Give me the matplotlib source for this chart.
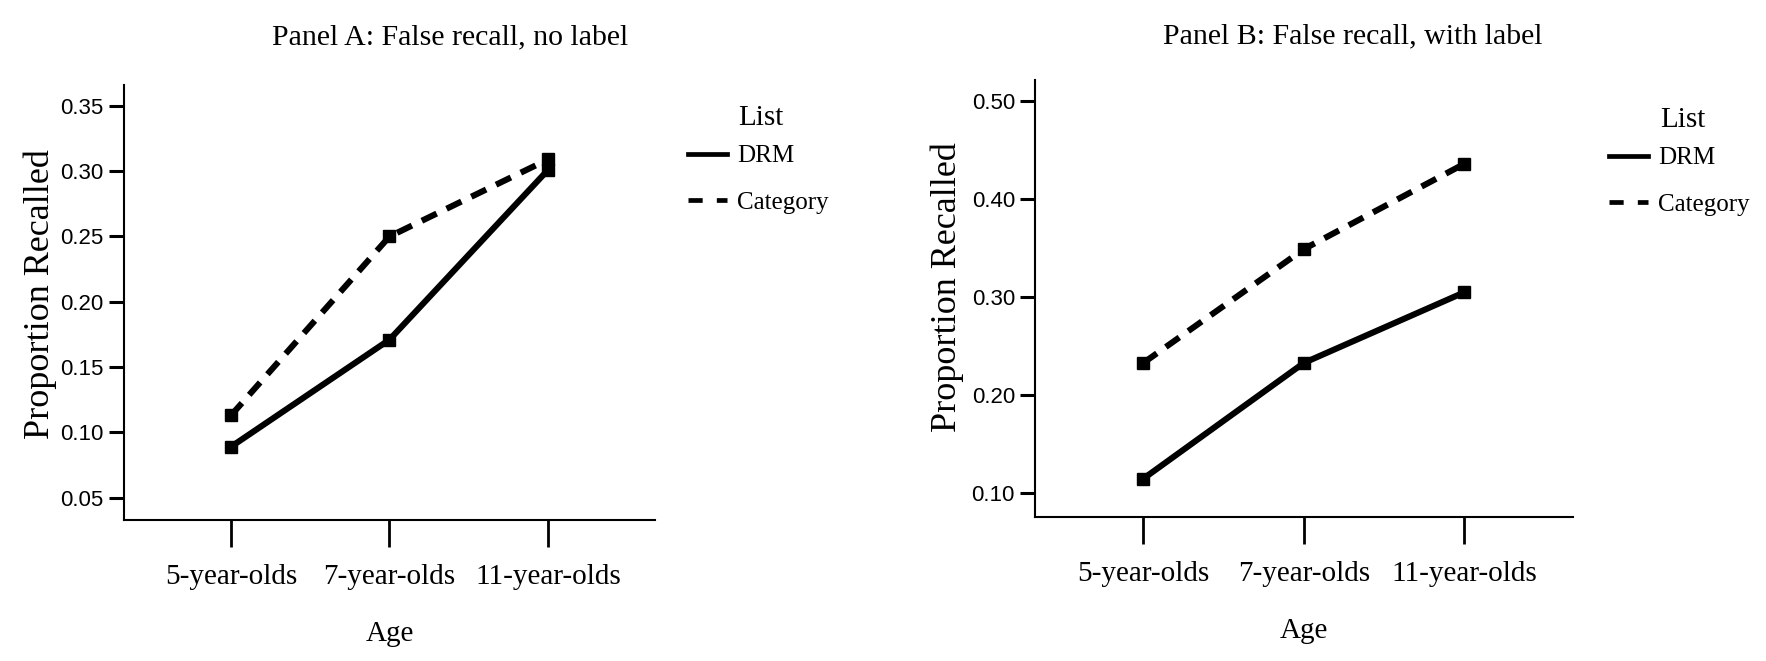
import matplotlib
matplotlib.use("Agg")
import matplotlib.pyplot as plt
from matplotlib.lines import Line2D

# Data
ages = ["5-year-olds", "7-year-olds", "11-year-olds"]
series_names = ["DRM", "Category"]

drm_no_label = [0.089, 0.171, 0.301]
cat_no_label = [0.113, 0.250, 0.309]
drm_with_label = [0.115, 0.233, 0.305]
cat_with_label = [0.233, 0.349, 0.436]

yticks_a = [0.05, 0.10, 0.15, 0.20, 0.25, 0.30, 0.35]
yticks_b = [0.10, 0.20, 0.30, 0.40, 0.50]

SERIF = ["Liberation Serif", "DejaVu Serif"]
SANS = ["Liberation Sans Narrow", "Liberation Sans", "DejaVu Sans"]

LW = 4.4
DASH = (2.7, 1.8)


def draw_panel(ax, drm, cat, yticks, ylim, fmt):
	x = list(range(len(ages)))
	ax.plot(x, drm, color="black", lw=LW, marker="s", ms=8.5)
	ax.plot(x, cat, color="black", lw=LW, marker="s", ms=8.5, linestyle=(0, DASH))

	ax.set_xlim(-0.675, 2.675)
	ax.set_ylim(*ylim)
	ax.set_xticks(x)
	ax.set_xticklabels(ages, family=SERIF, fontsize=21)
	ax.set_yticks(yticks)
	ax.set_yticklabels([fmt.format(v) for v in yticks], family=SANS, fontsize=16)

	for side in ["top", "right"]:
		ax.spines[side].set_visible(False)
	for side in ["left", "bottom"]:
		ax.spines[side].set_linewidth(1.5)

	ax.tick_params(axis="x", direction="out", length=19.5, width=2, pad=12.5)
	ax.tick_params(axis="y", direction="out", length=11, width=2.2, pad=3.5)

	ax.set_xlabel("Age", family=SERIF, fontsize=21)
	ax.xaxis.label.set(va="center")
	ax.xaxis.set_label_coords(0.5, -0.262)

	ax.set_ylabel("Proportion Recalled", family=SERIF, fontsize=26)
	ax.yaxis.label.set(va="center", ha="center", rotation_mode="default")

	handles = [Line2D([], [], color="black", lw=3.4),
			   Line2D([], [], color="black", lw=3.4, linestyle=(0, (3.0, 3.0)))]
	return handles


def add_legend(ax, handles, x_px, y_px, title_x, title_y):
	ax.legend(handles, series_names, loc="upper left",
			  bbox_to_anchor=(x_px / 1766, 1 - y_px / 661), bbox_transform=fig.transFigure,
			  frameon=False, prop={"family": SERIF, "size": 18},
			  handlelength=1.55, handletextpad=0.4, labelspacing=0.95,
			  borderpad=0, borderaxespad=0)
	fig.text(title_x / 1766, 1 - title_y / 661, "List", family=SERIF, fontsize=21,
			 ha="center", va="center")


fig = plt.figure(figsize=(17.66, 6.61), dpi=100)

ax_a = fig.add_axes([0.0702, 0.2133, 0.3007, 0.6581])
h = draw_panel(ax_a, drm_no_label, cat_no_label, yticks_a, (0.0329, 0.366), "{:.2f}")
ax_a.yaxis.set_label_coords(-0.158, 0.52)
add_legend(ax_a, h, 688, 145, 761, 118)

ax_b = fig.add_axes([0.5861, 0.2179, 0.3045, 0.6611])
h = draw_panel(ax_b, drm_with_label, cat_with_label, yticks_b, (0.0759, 0.5214), "{:.2f}")
ax_b.yaxis.set_label_coords(-0.163, 0.526)
add_legend(ax_b, h, 1609, 147, 1683, 120)

fig.text(450 / 1766, 1 - 37 / 661, "Panel A: False recall, no label",
		 family=SERIF, fontsize=21.5, ha="center", va="center")
fig.text(1353 / 1766, 1 - 36 / 661, "Panel B: False recall, with label",
		 family=SERIF, fontsize=21.5, ha="center", va="center")

fig.savefig("out.png", dpi=100)
